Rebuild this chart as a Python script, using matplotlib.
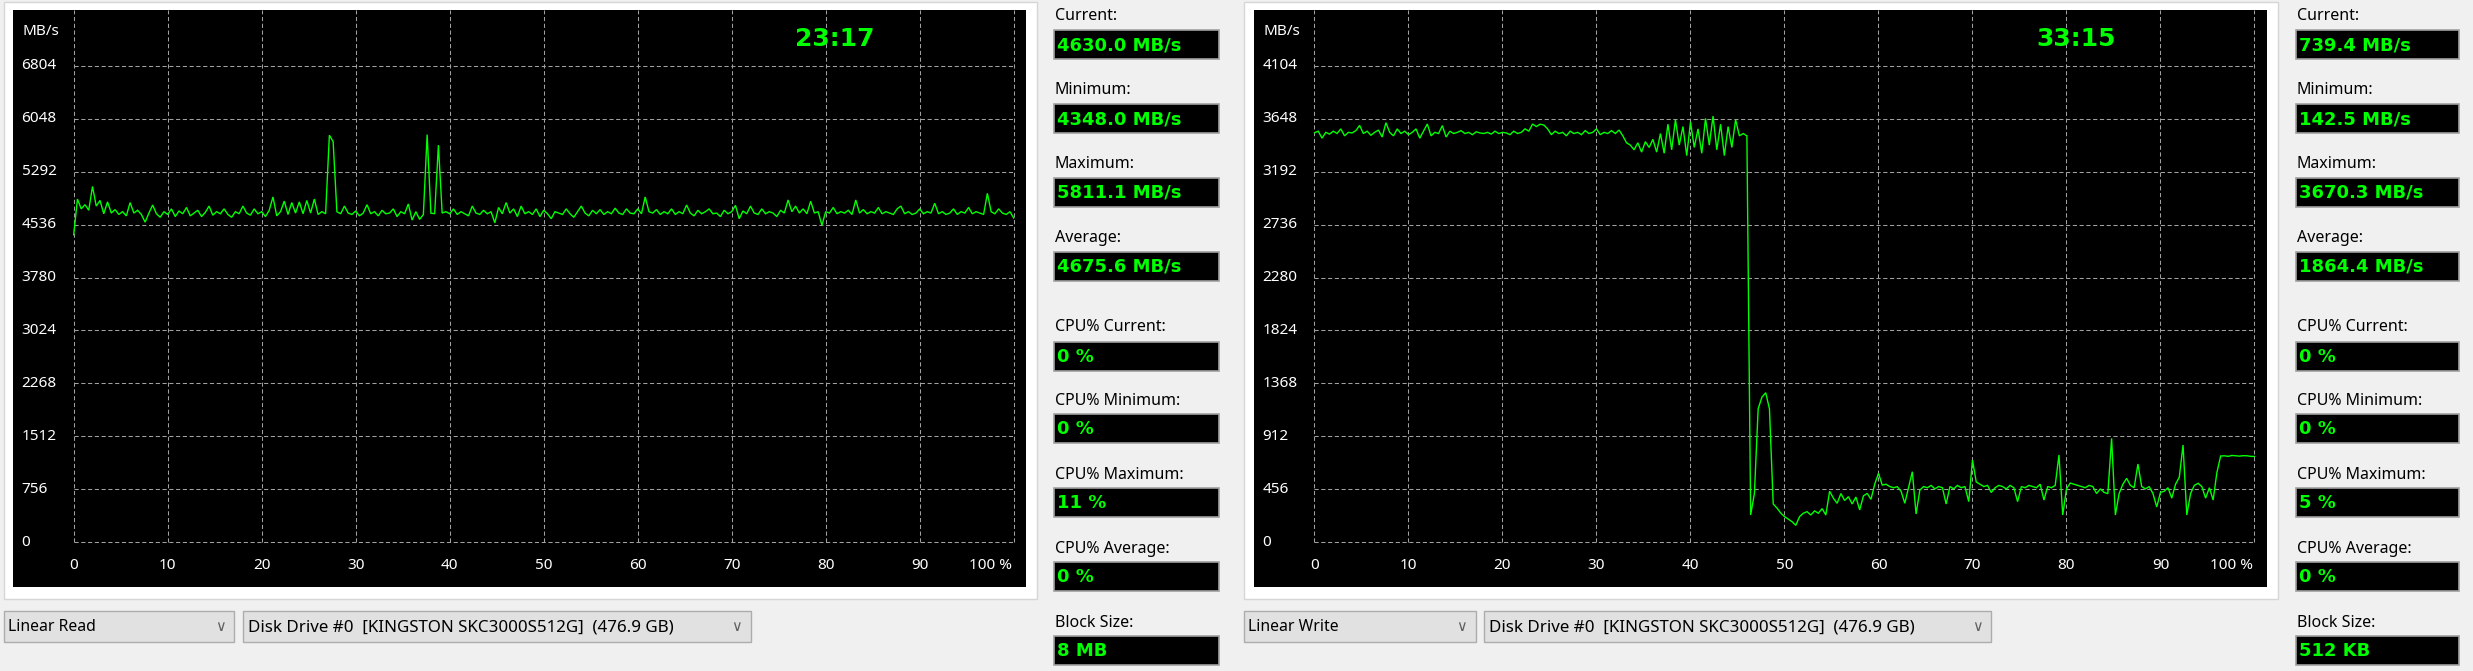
import numpy as np
import matplotlib
matplotlib.use("Agg")
import matplotlib.pyplot as plt
from matplotlib.patches import Rectangle
import matplotlib.transforms as mtransforms

# ---------------- data ----------------
pct_ticks = [0, 10, 20, 30, 40, 50, 60, 70, 80, 90, 100]
pct_tick_labels = ["0", "10", "20", "30", "40", "50", "60", "70", "80", "90", "100 %"]
read_ticks = [0, 756, 1512, 2268, 3024, 3780, 4536, 5292, 6048, 6804]
write_ticks = [0, 456, 912, 1368, 1824, 2280, 2736, 3192, 3648, 4104]

read_speed = [
    4390, 4900, 4760, 4820, 4740, 5080, 4800, 4880, 4690, 4860,
    4700, 4750, 4680, 4720, 4660, 4850, 4700, 4740, 4680, 4570,
    4700, 4815, 4690, 4640, 4720, 4680, 4760, 4650, 4730, 4690,
    4780, 4660, 4700, 4740, 4650, 4710, 4800, 4670, 4720, 4690,
    4760, 4680, 4640, 4720, 4690, 4800, 4700, 4670, 4760, 4690,
    4720, 4650, 4740, 4930, 4660, 4720, 4870, 4680, 4850, 4700,
    4860, 4690, 4880, 4700, 4900, 4680, 4720, 4690, 5811, 5720,
    4720, 4690, 4800, 4700, 4680, 4730, 4660, 4700, 4820, 4690,
    4720, 4660, 4740, 4690, 4700, 4760, 4650, 4720, 4690, 4830,
    4600, 4720, 4610, 4680, 5820, 4700, 4690, 5670, 4700, 4720,
    4690, 4760, 4680, 4720, 4690, 4660, 4800, 4700, 4680, 4740,
    4690, 4720, 4560, 4780, 4690, 4850, 4700, 4760, 4650, 4800,
    4690, 4720, 4680, 4760, 4650, 4740, 4690, 4620, 4720, 4700,
    4680, 4760, 4690, 4640, 4720, 4800, 4700, 4660, 4740, 4690,
    4750, 4680, 4720, 4690, 4770, 4700, 4680, 4760, 4700, 4690,
    4760, 4690, 4930, 4720, 4700, 4750, 4680, 4720, 4690, 4760,
    4680, 4720, 4690, 4815, 4700, 4660, 4740, 4690, 4720, 4760,
    4690, 4700, 4650, 4740, 4690, 4720, 4810, 4620, 4730, 4690,
    4800, 4700, 4680, 4760, 4690, 4720, 4700, 4650, 4740, 4700,
    4887, 4720, 4800, 4700, 4760, 4690, 4870, 4700, 4720, 4525,
    4720, 4700, 4780, 4690, 4720, 4700, 4740, 4680, 4887, 4700,
    4750, 4690, 4720, 4700, 4780, 4690, 4720, 4700, 4680, 4760,
    4800, 4690, 4720, 4680, 4700, 4760, 4690, 4720, 4700, 4840,
    4690, 4720, 4680, 4700, 4760, 4680, 4720, 4700, 4780, 4690,
    4720, 4700, 4680, 4982, 4720, 4690, 4760, 4700, 4680, 4720,
    4630,
]

write_speed = [
    3527, 3540, 3480, 3530, 3515, 3540, 3520, 3560, 3500, 3530,
    3525, 3545, 3590, 3520, 3540, 3505, 3530, 3550, 3490, 3613,
    3530, 3500, 3560, 3520, 3540, 3510, 3530, 3560, 3480, 3540,
    3602, 3500, 3530, 3520, 3588, 3490, 3540, 3520, 3530, 3545,
    3520, 3530, 3510, 3535, 3525, 3520, 3530, 3515, 3540, 3520,
    3530, 3525, 3510, 3540, 3520, 3530, 3560, 3540, 3602, 3580,
    3600, 3593, 3560, 3510, 3540, 3520, 3530, 3500, 3540, 3520,
    3530, 3510, 3545, 3520, 3530, 3560, 3510, 3530, 3520, 3545,
    3520, 3550, 3500, 3440, 3420, 3380, 3440, 3360, 3450, 3400,
    3470, 3360, 3520, 3350, 3600, 3380, 3640, 3420, 3580, 3330,
    3620, 3400, 3560, 3350, 3650, 3420, 3670, 3380, 3600, 3330,
    3580, 3400, 3640, 3500, 3520, 3500, 235, 420, 1150, 1250,
    1288, 1150, 330, 295, 252, 221, 200, 178, 146, 221,
    250, 264, 235, 270, 250, 290, 235, 440, 380, 336,
    420, 360, 393, 330, 390, 279, 400, 421, 370, 500,
    594, 493, 500, 480, 470, 479, 440, 336, 470, 608,
    244, 450, 480, 470, 490, 460, 480, 470, 330, 480,
    460, 490, 470, 480, 350, 708, 520, 500, 480, 490,
    429, 470, 490, 480, 460, 490, 470, 350, 480, 470,
    490, 480, 470, 500, 364, 480, 470, 490, 752, 235,
    460, 510, 500, 490, 480, 470, 490, 480, 420, 460,
    430, 419, 895, 235, 420, 500, 551, 490, 470, 674,
    480, 460, 480, 420, 304, 430, 440, 470, 380, 500,
    560, 838, 235, 420, 490, 508, 480, 380, 470, 364,
    600, 743, 745, 740, 748, 745, 742, 746, 745, 740,
    739,
]

stat_labels = ["Current:", "Minimum:", "Maximum:", "Average:",
               "CPU% Current:", "CPU% Minimum:", "CPU% Maximum:",
               "CPU% Average:", "Block Size:"]
read_values = ["4630.0 MB/s", "4348.0 MB/s", "5811.1 MB/s", "4675.6 MB/s",
               "0 %", "0 %", "11 %", "0 %", "8 MB"]
write_values = ["739.4 MB/s", "142.5 MB/s", "3670.3 MB/s", "1864.4 MB/s",
                "0 %", "0 %", "5 %", "0 %", "512 KB"]
read_time = "23:17"
write_time = "33:15"
read_mode = "Linear Read"
write_mode = "Linear Write"
drive_name = "Disk Drive #0  [KINGSTON SKC3000S512G]  (476.9 GB)"

# ---------------- layout ----------------
W, H = 2473, 671
DPI = 100
GREEN = "#00ff00"
GRID = "#a0a0a0"
UI_FONT = ["Noto Sans", "DejaVu Sans"]
VAL_FONT = ["DejaVu Sans"]

fig = plt.figure(figsize=(W / DPI, H / DPI), dpi=DPI, facecolor="#f0f0f0")

bg = fig.add_axes([0, 0, 1, 1])
bg.set_xlim(0, W)
bg.set_ylim(H, 0)
bg.axis("off")
bg.set_zorder(0)


def px_axes(x, y, w, h):
    return fig.add_axes([x / W, 1 - (y + h) / H, w / W, h / H])


# white panels
for px0, pw in [(4, 1033), (1244, 1034)]:
    bg.add_patch(Rectangle((px0, 2), pw, 597, facecolor="white",
                           edgecolor="#d6d6d6", lw=1.0))

# stat columns
label_ys = [16.3, 89.9, 163.9, 237.9, 327.3, 401.0, 475.0, 548.6, 622.6]
box_tops = [30.4, 104.4, 178.0, 252.0, 341.9, 414.2, 488.2, 562.3, 636.3]
BOX_H = 28.8
for col_x, col_w, values in [(1054, 165, read_values), (2296, 163, write_values)]:
    for lab, ly, bt, val in zip(stat_labels, label_ys, box_tops, values):
        bg.text(col_x + 1, ly, lab, fontsize=11.5, family=UI_FONT,
                color="#000000", ha="left", va="center")
        bg.add_patch(Rectangle((col_x, bt), col_w, BOX_H, facecolor="black",
                               edgecolor="#a0a0a0", lw=1.2))
        bg.text(col_x + 3.5, bt + BOX_H / 2 + 0.5, val, fontsize=13,
                family=VAL_FONT, weight="bold", color=GREEN,
                ha="left", va="center")

# combo boxes
combos = [(3.6, 230.8, read_mode, 11.3), (243.3, 507.4, drive_name, 12.2),
          (1244.0, 231.7, write_mode, 11.3), (1484.4, 507.1, drive_name, 12.2)]
for cx, cw, txt, fs in combos:
    bg.add_patch(Rectangle((cx, 610.7), cw, 31.6, facecolor="#e1e1e1",
                           edgecolor="#adadad", lw=1.0))
    bg.text(cx + 4.5, 627.0, txt, fontsize=fs, family=UI_FONT,
            color="#000000", ha="left", va="center")
    bg.text(cx + cw - 14, 626.5, "\u2228", fontsize=10.5,
            family=["DejaVu Sans"], color="#606060",
            ha="center", va="center")


def draw_chart(rect, xlim, ylim, ticks, speed, time_str):
    ax = px_axes(*rect)
    ax.set_zorder(2)
    ax.set_facecolor("black")
    ax.set_xlim(*xlim)
    ax.set_ylim(*ylim)
    for s in ax.spines.values():
        s.set_visible(False)
    ax.set_xticks([])
    ax.set_yticks([])
    ax.vlines(pct_ticks, ticks[0], ylim[1], colors=GRID, lw=0.75,
              linestyles=(0, (4, 2.5)))
    ax.hlines(ticks, pct_ticks[0], pct_ticks[-1], colors=GRID, lw=0.75,
              linestyles=(0, (4, 2.5)))
    pct = np.linspace(pct_ticks[0], pct_ticks[-1], len(speed))
    ax.plot(pct, speed, color=GREEN, lw=1.0, solid_joinstyle="miter")

    ylab = mtransforms.blended_transform_factory(ax.transAxes, ax.transData)
    for t in ticks:
        ax.text(0.0085, t, str(t), transform=ylab, fontsize=11,
                family=UI_FONT, color="white", ha="left", va="center")
    ax.text(0.0092, 0.963, "MB/s", transform=ax.transAxes, fontsize=11,
            family=UI_FONT, color="white", ha="left", va="center")
    xlab = mtransforms.blended_transform_factory(ax.transData, ax.transAxes)
    for t, lab in zip(pct_ticks, pct_tick_labels):
        if lab.endswith("%"):
            ax.text(t - 0.15, 0.0364, lab, transform=xlab, fontsize=11,
                    family=UI_FONT, color="white", ha="right", va="center")
        else:
            ax.text(t, 0.0364, lab, transform=xlab, fontsize=11,
                    family=UI_FONT, color="white", ha="center", va="center")
    ax.text(81.0, 0.9497, time_str, transform=xlab, fontsize=18,
            family=VAL_FONT, weight="bold", color=GREEN,
            ha="center", va="center")
    return ax


draw_chart((13, 10, 1013, 576.7), (-6.457, 101.31), (-634, 7599),
           read_ticks, read_speed, read_time)
draw_chart((1253.8, 10, 1012.9, 576.7), (-6.457, 101.30), (-382.3, 4583.6),
           write_ticks, write_speed, write_time)

fig.savefig("out.png", dpi=DPI, facecolor=fig.get_facecolor())
